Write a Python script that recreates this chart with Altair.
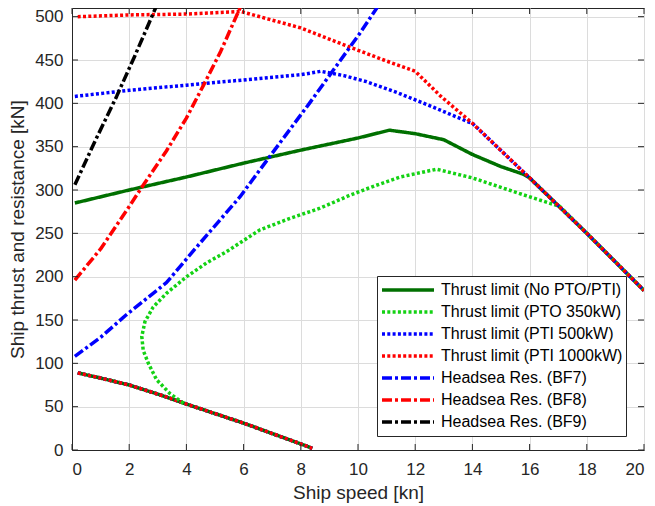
import altair as alt
import pandas as pd

SERIES = ["Thrust limit (No PTO/PTI)", "Thrust limit (PTO 350kW)", "Thrust limit (PTI 500kW)",
          "Thrust limit (PTI 1000kW)", "Headsea Res. (BF7)", "Headsea Res. (BF8)", "Headsea Res. (BF9)"]
COLORS = ["#007000", "#14d214", "#0000ff", "#ff0000", "#0000ff", "#ff0000", "#000000"]
DASHES = [[1, 0], [3, 2.3], [3, 2.3], [3, 2.3], [10, 3, 3, 3], [10, 3, 3, 3], [10, 3, 3, 3]]

# lower branch shared by all thrust-limit curves
low_x = [0.2, 1, 2, 3, 4, 5, 6, 7, 8, 8.4]
low_y = [89, 83, 75, 64.5, 53, 42, 31, 19, 7, 2]

nopto_x = [0.1, 2, 4, 6, 8, 10, 11.1, 12, 13, 14, 15, 15.8, 16, 18, 20]
nopto_y = [285, 300, 315, 331, 346, 360, 369, 365, 358, 341, 327, 318, 314, 250, 184]

pto_x = [3.9, 3.43, 2.96, 2.67, 2.49, 2.44, 2.55, 2.84, 3.31, 4.01, 4.71, 5.41, 6.57, 7.6, 8.67,
         9.72, 10.6, 11.47, 12.75, 14.0, 15.0, 15.78, 17.06, 18, 20]
pto_y = [54, 65, 81, 100, 115, 131, 148, 165, 181, 200, 216, 229, 254, 267, 279,
         294, 305, 315, 324, 314, 303, 294.5, 281, 250, 184]

pti5_x = [0.1, 2, 4, 6, 8, 8.7, 9.5, 10.3, 11.4, 12.6, 13.9, 14, 16, 18, 20]
pti5_y = [408, 415, 421, 427, 433, 437, 432, 425, 412, 396, 378, 377, 314, 250, 184]

pti10_x = [0.2, 2, 4, 5.9, 7, 8, 9.7, 10.9, 12, 12.9, 14, 16, 18, 20]
pti10_y = [500, 502, 503, 506, 496, 487, 465, 450, 437, 408, 377, 314, 250, 184]

bf7_x = [0.1, 1, 1.9, 3.3, 4.3, 5.87, 6.9, 8.3, 10.07, 10.8]
bf7_y = [108, 130, 156, 193, 232, 292, 338, 400, 481, 517]

bf8_x = [0.1, 1, 2, 2.5, 3.3, 4, 4.6, 5.2, 5.9]
bf8_y = [196, 232, 281, 306, 345, 383, 421, 460, 512]

bf9_x = [0.1, 0.8, 1.56, 2.2, 3.0]
bf9_y = [306, 356, 408, 455, 516]

X_TICKS = list(range(0, 21, 2))
Y_TICKS = list(range(0, 501, 50))

rows = []
def add(name, seg, xs, ys):
    for i, (x, y) in enumerate(zip(xs, ys)):
        rows.append({"series": name, "seg": f"{name}-{seg}", "i": i, "x": x, "y": y})

add(SERIES[0], "a", low_x, low_y)
add(SERIES[1], "a", low_x, low_y)
add(SERIES[2], "a", low_x, low_y)
add(SERIES[3], "a", low_x, low_y)
add(SERIES[0], "b", nopto_x, nopto_y)
add(SERIES[1], "b", pto_x, pto_y)
add(SERIES[2], "b", pti5_x, pti5_y)
add(SERIES[3], "b", pti10_x, pti10_y)
add(SERIES[4], "b", bf7_x, bf7_y)
add(SERIES[5], "b", bf8_x, bf8_y)
add(SERIES[6], "b", bf9_x, bf9_y)
df = pd.DataFrame(rows)

W, H = 572, 442
FONT = "Liberation Sans"

xscale = alt.Scale(domain=[0, 20], nice=False, zero=False)
yscale = alt.Scale(domain=[0, 510], nice=False, zero=False)

leg = alt.Legend(title=None, orient="none", legendX=305, legendY=268)

lines = alt.Chart(df).mark_line(clip=True, strokeWidth=3.5, strokeCap="butt", strokeJoin="round").encode(
    x=alt.X("x:Q", scale=xscale,
            axis=alt.Axis(values=X_TICKS, title="Ship speed [kn]", tickSize=0, labelPadding=11,
                          titlePadding=6, grid=True)),
    y=alt.Y("y:Q", scale=yscale,
            axis=alt.Axis(values=Y_TICKS, title="Ship thrust and resistance [kN]", tickSize=0,
                          labelPadding=9, titlePadding=7, grid=True)),
    color=alt.Color("series:N", scale=alt.Scale(domain=SERIES, range=COLORS), sort=SERIES, legend=leg),
    strokeDash=alt.StrokeDash("series:N", scale=alt.Scale(domain=SERIES, range=DASHES), sort=SERIES,
                              legend=leg),
    detail="seg:N",
    order=alt.Order("i:Q"),
)

xt = pd.DataFrame({"v": X_TICKS})
yt = pd.DataFrame({"v": Y_TICKS})
TL = 6
tick_col = "#262626"
bx = alt.Chart(xt).mark_rule(color=tick_col, strokeWidth=1).encode(
    x=alt.X("v:Q", scale=xscale), y=alt.value(H), y2=alt.value(H - TL))
tx = alt.Chart(xt).mark_rule(color=tick_col, strokeWidth=1).encode(
    x=alt.X("v:Q", scale=xscale), y=alt.value(0), y2=alt.value(TL))
ly = alt.Chart(yt).mark_rule(color=tick_col, strokeWidth=1).encode(
    y=alt.Y("v:Q", scale=yscale), x=alt.value(0), x2=alt.value(TL))
ry = alt.Chart(yt).mark_rule(color=tick_col, strokeWidth=1).encode(
    y=alt.Y("v:Q", scale=yscale), x=alt.value(W), x2=alt.value(W - TL))

chart = alt.layer(lines, bx, tx, ly, ry).properties(
    width=W, height=H,
    autosize=alt.AutoSizeParams(type="none"),
    padding={"left": 64, "top": 0, "right": 3, "bottom": 56},
).configure_view(stroke="#262626", strokeWidth=1).configure_axis(
    labelFont=FONT, titleFont=FONT, labelFontSize=17, titleFontSize=19,
    labelColor="#262626", titleColor="#262626", titleFontWeight="normal",
    domainColor="#262626", gridColor="#dcdcdc", gridWidth=1,
).configure_legend(
    labelFont=FONT, labelFontSize=16, labelColor="#000000", labelLimit=0,
    symbolType="stroke", symbolSize=2704, symbolStrokeWidth=3.5,
    strokeColor="#262626", fillColor="white", padding=3, labelOffset=5,
    rowPadding=0, clipHeight=22,
)

chart.save("out.html", embed_options={"renderer": "svg", "actions": False})
